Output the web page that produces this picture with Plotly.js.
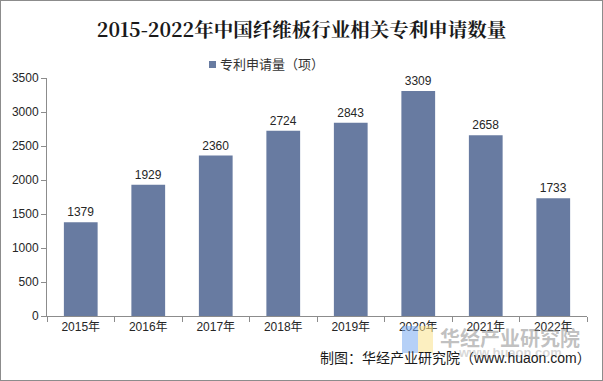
<!DOCTYPE html>
<html><head><meta charset="utf-8">
<script src="https://cdn.plot.ly/plotly-3.0.1.min.js"></script>
<style>
html,body{margin:0;padding:0;background:#fff;}
#c{width:601px;height:379px;border:1px solid #8c8c8c;}
</style></head>
<body><div id="c"></div>
<script>
const years = ['2015年','2016年','2017年','2018年','2019年','2020年','2021年','2022年'];
const patents = [1379,1929,2360,2724,2843,3309,2658,1733];
const seriesName = '专利申请量（项）';

const W=601,H=379,L=46,R=15,T=77,B=64;
const pw=W-L-R, ph=H-T-B;
function px(x){return (x-1-L)/pw;}
function py(y){return 1-(y-1-T)/ph;}

const font = 'Arial, "Liberation Sans", "Noto Sans CJK SC", sans-serif';
const barColor = '#687ba1';
const data=[{
  type:'bar', x:years, y:patents, name:seriesName, showlegend:false,
  marker:{color:barColor}, width:0.5,
  text:patents.map(String), textposition:'outside', cliponaxis:false,
  textfont:{family:font,size:12,color:'#262626'}
}];
const layout={
  width:W,height:H,margin:{l:L,r:R,t:T,b:B},
  paper_bgcolor:'#fff',plot_bgcolor:'#fff',
  font:{family:font,size:12,color:'#262626'},
  title:{text:'<b>2015-2022年中国纤维板行业相关专利申请数量</b>',x:0.5,xanchor:'center',y:1-29/H,yanchor:'middle',
    font:{family:'"Noto Serif CJK SC","DejaVu Serif","Noto Sans CJK SC",serif',size:19.5,color:'#1a1a1a'}},
  showlegend:false,
  xaxis:{type:'category',showgrid:false,showline:true,linecolor:'#8c8c8c',linewidth:1,
    ticks:'outside',tickson:'boundaries',ticklen:5,tickcolor:'#8c8c8c',
    tickfont:{family:font,size:12,color:'#262626'}},
  yaxis:{range:[0,3500],dtick:500,showgrid:false,showline:true,linecolor:'#8c8c8c',linewidth:1,
    ticks:'outside',ticklen:5,tickcolor:'#8c8c8c',zeroline:false,
    tickfont:{family:font,size:12,color:'#262626'}},
  shapes:[
    {type:'rect',xref:'paper',yref:'paper',x0:px(402),x1:px(418),y0:py(353),y1:py(326),fillcolor:'rgba(120,170,240,0.55)',line:{width:0},layer:'above'},
    {type:'rect',xref:'paper',yref:'paper',x0:px(418),x1:px(433),y0:py(353),y1:py(326),fillcolor:'rgba(250,225,140,0.55)',line:{width:0},layer:'above'},
    {type:'rect',xref:'paper',yref:'paper',x0:px(209),x1:px(216),y0:py(68),y1:py(61),fillcolor:barColor,line:{width:0}}
  ],
  annotations:[
    {xref:'paper',yref:'paper',x:px(218),y:py(64),xanchor:'left',yanchor:'middle',showarrow:false,
     text:seriesName,font:{family:font,size:13,color:'#333'}},
    {xref:'paper',yref:'paper',x:px(510),y:py(337),xanchor:'center',yanchor:'middle',showarrow:false,
     text:'<b>华经产业研究院</b>',font:{family:'"Noto Sans CJK SC",sans-serif',size:20,color:'rgba(140,140,140,0.55)'}},
    {xref:'paper',yref:'paper',x:px(510),y:py(352),xanchor:'center',yanchor:'middle',showarrow:false,
     text:'<b>www.huaon.com</b>',font:{family:font,size:13,color:'rgba(140,140,140,0.35)'}},
    {xref:'paper',yref:'paper',x:px(593),y:py(358),xanchor:'right',yanchor:'middle',showarrow:false,
     text:'制图：华经产业研究院（www.huaon.com）',font:{family:font,size:14,color:'#1a1a1a'}}
  ]
};
Plotly.newPlot('c',data,layout,{displayModeBar:false,staticPlot:true});
</script></body></html>
